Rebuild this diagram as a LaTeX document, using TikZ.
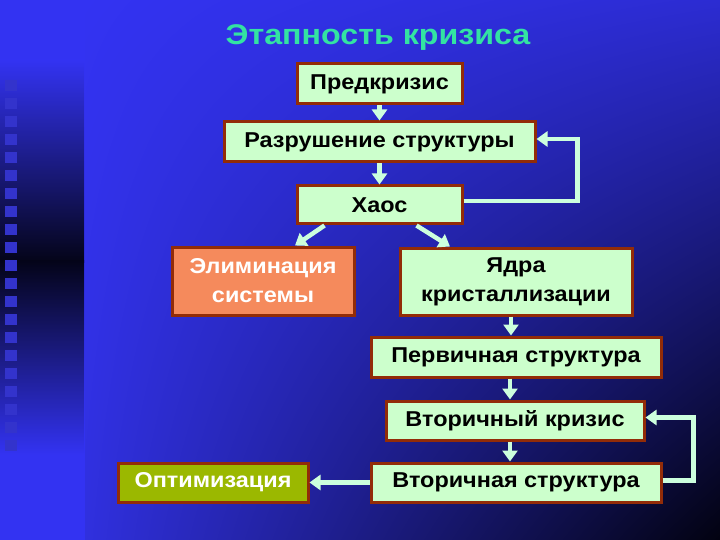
\documentclass[tikz,border=0pt]{standalone}
\usepackage{fontspec}
\setmainfont{Liberation Sans}
\newfontfamily\boxfont[FakeStretch=1.09]{Liberation Sans}
\newfontfamily\titlefont[FakeStretch=1.13]{Liberation Sans}
\usetikzlibrary{arrows.meta,calc,shadings}
\definecolor{bgblue}{HTML}{3333F2}
\definecolor{urblue}{HTML}{2C2CD2}
\definecolor{llblue}{HTML}{3030DE}
\definecolor{lrdark}{HTML}{020210}
\definecolor{banddark}{HTML}{040418}
\definecolor{boxborder}{HTML}{922C08}
\definecolor{boxfill}{HTML}{CCFFCC}
\definecolor{arrcol}{HTML}{CCFFDD}
\definecolor{orangefill}{HTML}{F58A5C}
\definecolor{olivefill}{HTML}{9BB800}
\definecolor{titlecol}{HTML}{33E3A2}
\definecolor{sqcol}{HTML}{3333CC}
\begin{document}
\begin{tikzpicture}[x=1pt,y=-1pt,
  box/.style={draw=boxborder, line width=3pt, fill=boxfill, text=black,
    font=\boxfont\bfseries\fontsize{21.5}{29}\selectfont, align=center, inner sep=0pt},
  arr/.style={draw=arrcol, line width=4.5pt, -{Triangle[width=15pt,length=11pt]}}]
\useasboundingbox (0,0) rectangle (720,540);
% background
\fill[bgblue] (0,0) rectangle (720,540);
\shade[upper left=bgblue, upper right=urblue, lower left=llblue, lower right=lrdark]
  (85,0) rectangle (720,540);
\shade[top color=bgblue, bottom color=banddark] (0,60) rectangle (84,262);
\shade[top color=banddark, bottom color=bgblue] (0,260) rectangle (84,455);
\foreach \i in {0,...,20} {
  \fill[sqcol] (5,{80+18*\i}) rectangle (17,{91+18*\i});
}
% title
\node[text=titlecol, font=\titlefont\bfseries\fontsize{28.5}{34}\selectfont, anchor=base] (title) at (378,45) {Этапность кризиса};
% boxes
\node[box, minimum width=165pt, minimum height=40pt] (pre) at (379.5,84) {Предкризис};
\node[box, minimum width=311pt, minimum height=40pt] (razr) at (379.5,142) {Разрушение структуры};
\node[box, minimum width=165pt, minimum height=38pt] (haos) at (379.5,205) {Хаос};
\node[box, fill=orangefill, text=white, minimum width=182pt, minimum height=68pt] (elim) at (263,281) {Элиминация\\системы};
\node[box, minimum width=232pt, minimum height=67pt] (yadra) at (516,281.5) {Ядра\\кристаллизации};
\node[box, minimum width=290pt, minimum height=40pt] (perv) at (516,357) {Первичная структура};
\node[box, minimum width=258pt, minimum height=39pt] (vtk) at (515,420.5) {Вторичный кризис};
\node[box, minimum width=290pt, minimum height=39pt] (vts) at (516,482.5) {Вторичная структура};
\node[box, fill=olivefill, text=white, minimum width=190pt, minimum height=39pt] (opt) at (213,482.5) {Оптимизация};
% arrows
\draw[arr] (pre) -- (razr);
\draw[arr] (razr) -- (haos);
\draw[arr] ($(haos.south)+(-55,0)$) -- ($(elim.north)+(32,0)$);
\draw[arr] ($(haos.south)+(37,0)$) -- ($(yadra.north)+(-66,0)$);
\draw[arr] ($(haos.east)+(0,-4)$) -- ++(114,0) |- ($(razr.east)+(0,-3)$);
\draw[arr] ($(yadra.south)+(-5,0)$) -- ($(perv.north)+(-5,0)$);
\draw[arr] ($(perv.south)+(-6,0)$) -- ($(vtk.north)+(-5,0)$);
\draw[arr] ($(vtk.south)+(-5,0)$) -- ($(vts.north)+(-6,0)$);
\draw[arr] ($(vts.east)+(0,-2)$) -- ++(31,0) |- ($(vtk.east)+(0,-3)$);
\draw[arr] (vts.west) -- (opt.east);
\end{tikzpicture}
\end{document}
